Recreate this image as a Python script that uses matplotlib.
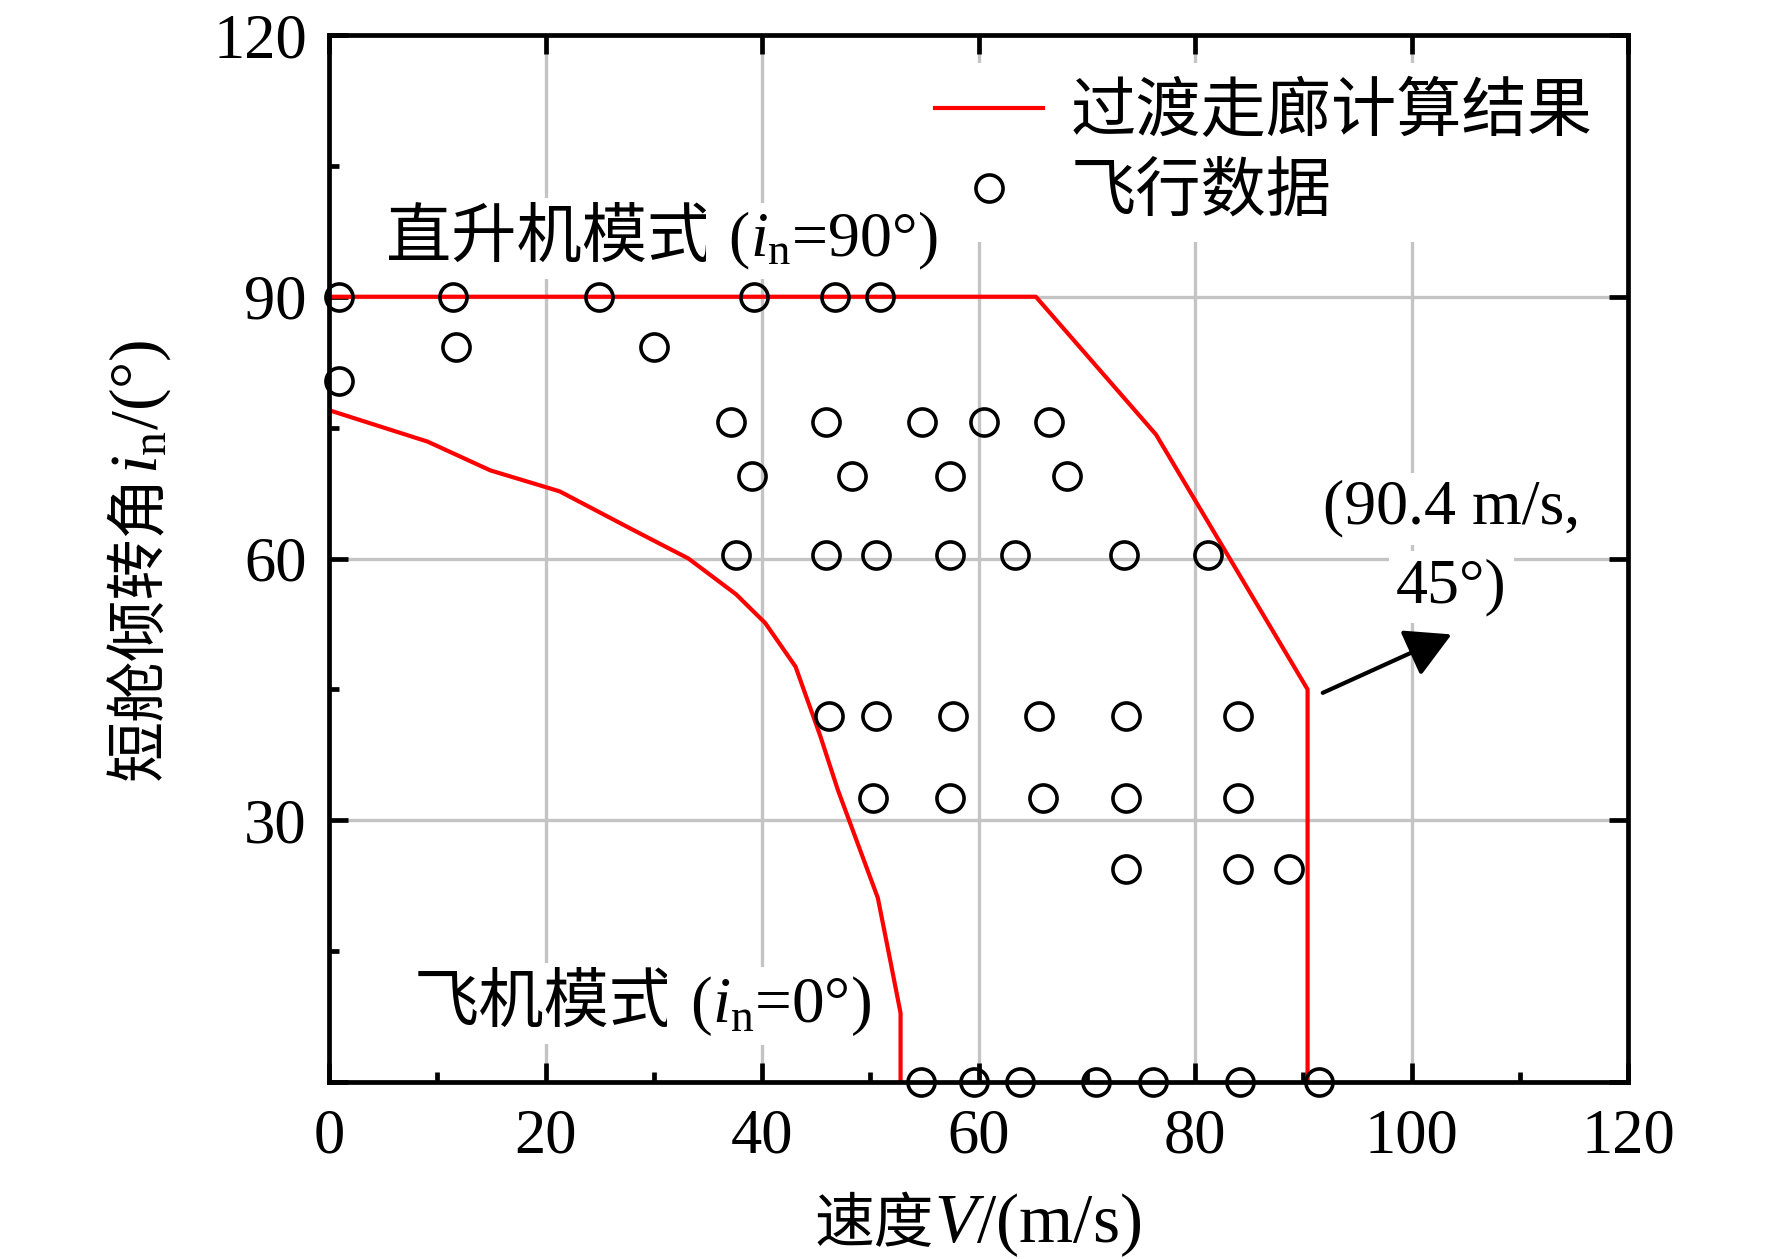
import matplotlib

matplotlib.use("Agg")
import matplotlib.pyplot as plt
from matplotlib.lines import Line2D
from matplotlib.ticker import MultipleLocator

plt.rcParams["font.family"] = ["Liberation Serif", "Noto Sans CJK SC"]
plt.rcParams["mathtext.fontset"] = "custom"
plt.rcParams["mathtext.rm"] = "Liberation Serif"
plt.rcParams["mathtext.it"] = "Liberation Serif:italic"

# transition corridor, outer (high speed) boundary
upper_v = [0.0, 65.3, 76.4, 90.4, 90.4]
upper_i = [90.0, 90.0, 74.2, 45.0, 0.0]

# transition corridor, inner (low speed) boundary
lower_v = [0.0, 9.1, 14.9, 21.3, 27.9, 33.2, 37.6, 40.3, 43.1, 45.4, 47.0, 50.7, 51.9, 52.8, 52.8]
lower_i = [77.0, 73.4, 70.1, 67.7, 63.4, 60.0, 55.9, 52.6, 47.6, 39.6, 33.5, 21.1, 13.6, 7.9, 0.0]

# flight test points
flight_v = [
    0.9, 11.5, 24.9, 39.3, 46.7, 50.9,
    11.7, 30.0,
    0.9,
    37.1, 45.9, 54.8, 60.5, 66.5,
    39.1, 48.3, 57.4, 68.2,
    37.6, 45.9, 50.5, 57.4, 63.4, 73.4, 81.2,
    46.2, 50.5, 57.6, 65.6, 73.6, 84.0,
    50.3, 57.4, 66.0, 73.6, 84.0,
    73.6, 84.0, 88.7,
    54.7, 59.6, 63.8, 70.9, 76.1, 84.2, 91.5,
]
flight_i = [
    90.0, 90.0, 90.0, 90.0, 90.0, 90.0,
    84.2, 84.2,
    80.3,
    75.6, 75.6, 75.6, 75.6, 75.6,
    69.5, 69.5, 69.5, 69.5,
    60.4, 60.4, 60.4, 60.4, 60.4, 60.4, 60.4,
    41.9, 41.9, 41.9, 41.9, 41.9, 41.9,
    32.5, 32.5, 32.5, 32.5, 32.5,
    24.4, 24.4, 24.4,
    0.0, 0.0, 0.0, 0.0, 0.0, 0.0, 0.0,
]

x_ticks = [0, 20, 40, 60, 80, 100, 120]
y_ticks = [0, 30, 60, 90, 120]
y_tick_labels = ["", "30", "60", "90", "120"]

legend_labels = ["过渡走廊计算结果", "飞行数据"]

RED = "#ff0000"
GRID = "#c4c4c4"
CJK = ["Noto Sans CJK SC"]
LAT = ["Liberation Serif"]
WHITE_BOX = dict(facecolor="white", edgecolor="none", pad=5)
MARKER = dict(marker="o", ms=19.5, mfc="none", mec="black", mew=2.6)

fig = plt.figure(figsize=(17.72, 12.59), dpi=100)
ax = fig.add_axes([329 / 1772, 1 - 1082 / 1259, 1299 / 1772, 1047 / 1259])

ax.plot(upper_v, upper_i, color=RED, lw=3.0, zorder=2)
ax.plot(lower_v, lower_i, color=RED, lw=3.0, zorder=2)
ax.plot(flight_v, flight_i, ls="none", clip_on=False, zorder=4, **MARKER)

ax.set_xlim(0, 120)
ax.set_ylim(0, 120)
ax.set_xticks(x_ticks)
ax.set_yticks(y_ticks, y_tick_labels)
ax.xaxis.set_minor_locator(MultipleLocator(10))
ax.yaxis.set_minor_locator(MultipleLocator(15))
ax.grid(True, which="major", color=GRID, lw=2.4)
ax.set_axisbelow(True)

for spine in ax.spines.values():
    spine.set_linewidth(3.4)
ax.tick_params(which="both", direction="in", top=True, right=True, width=3.4)
ax.tick_params(which="major", length=14, labelsize=45)
ax.tick_params(which="minor", length=7, top=False, right=False)
ax.tick_params(axis="x", pad=19)
ax.tick_params(axis="y", pad=16)


def mixed_label(x, y, cjk, latin, cjk_size, lat_size):
    t = ax.text(x, y, cjk, family=CJK, fontsize=cjk_size, ha="left",
                va="baseline", bbox=WHITE_BOX, zorder=3)
    ax.annotate(latin, xy=(1, y), xycoords=(t, "data"), ha="left",
                va="baseline", family=LAT, fontsize=lat_size,
                bbox=WHITE_BOX, zorder=6, annotation_clip=False)


mixed_label(5.3, 94.6, "直升机模式", r" ($i_\mathrm{n}$=90°)", 47, 46)
mixed_label(7.8, 6.9, "飞机模式", r" ($i_\mathrm{n}$=0°)", 47, 47)

# limit point of the corridor
ax.annotate("", xy=(103.7, 51.3), xytext=(91.8, 44.6),
            arrowprops=dict(arrowstyle="-|>,head_length=0.4,head_width=0.22",
                            mutation_scale=70, lw=3.0, color="black",
                            shrinkA=0, shrinkB=0))
ax.text(103.7, 65.7, "(90.4 m/s,", ha="center", va="center", fontsize=46,
        family=LAT, bbox=WHITE_BOX, zorder=3)
ax.text(103.7, 56.7, "45°)", ha="center", va="center", fontsize=46,
        family=LAT, bbox=WHITE_BOX, zorder=3)

# axis labels: Chinese part + math part chained after it
xl = fig.text(0.4595, 0.0135, "速度", family=CJK, fontsize=43,
              ha="left", va="baseline")
ax.annotate(r"$V$/(m/s)", xy=(1, 0.0135), xycoords=(xl, "figure fraction"),
            ha="left", va="baseline", family=LAT, fontsize=50,
            annotation_clip=False)

yl = fig.text(0.0886, 1 - 780 / 1259, "短舱倾转角", family=CJK, fontsize=44,
              rotation=90, rotation_mode="anchor", ha="left", va="baseline")
ax.annotate(r"$i_\mathrm{n}$/(°)", xy=(0.0886, 1), xycoords=("figure fraction", yl),
            rotation=90, rotation_mode="anchor", ha="left", va="baseline",
            family=LAT, fontsize=49, annotation_clip=False)

handles = [
    Line2D([], [], color=RED, lw=3.0),
    Line2D([], [], ls="none", **MARKER),
]
leg = ax.legend(handles, legend_labels, loc="upper left",
                bbox_to_anchor=(0.454, 0.973), prop={"family": CJK, "size": 47},
                handlelength=1.66, handletextpad=0.42, borderpad=0.25,
                labelspacing=0.2, borderaxespad=0, fancybox=False, framealpha=1)
leg.get_frame().set_edgecolor("none")
leg.get_frame().set_facecolor("white")

fig.savefig("out.png", dpi=100)
